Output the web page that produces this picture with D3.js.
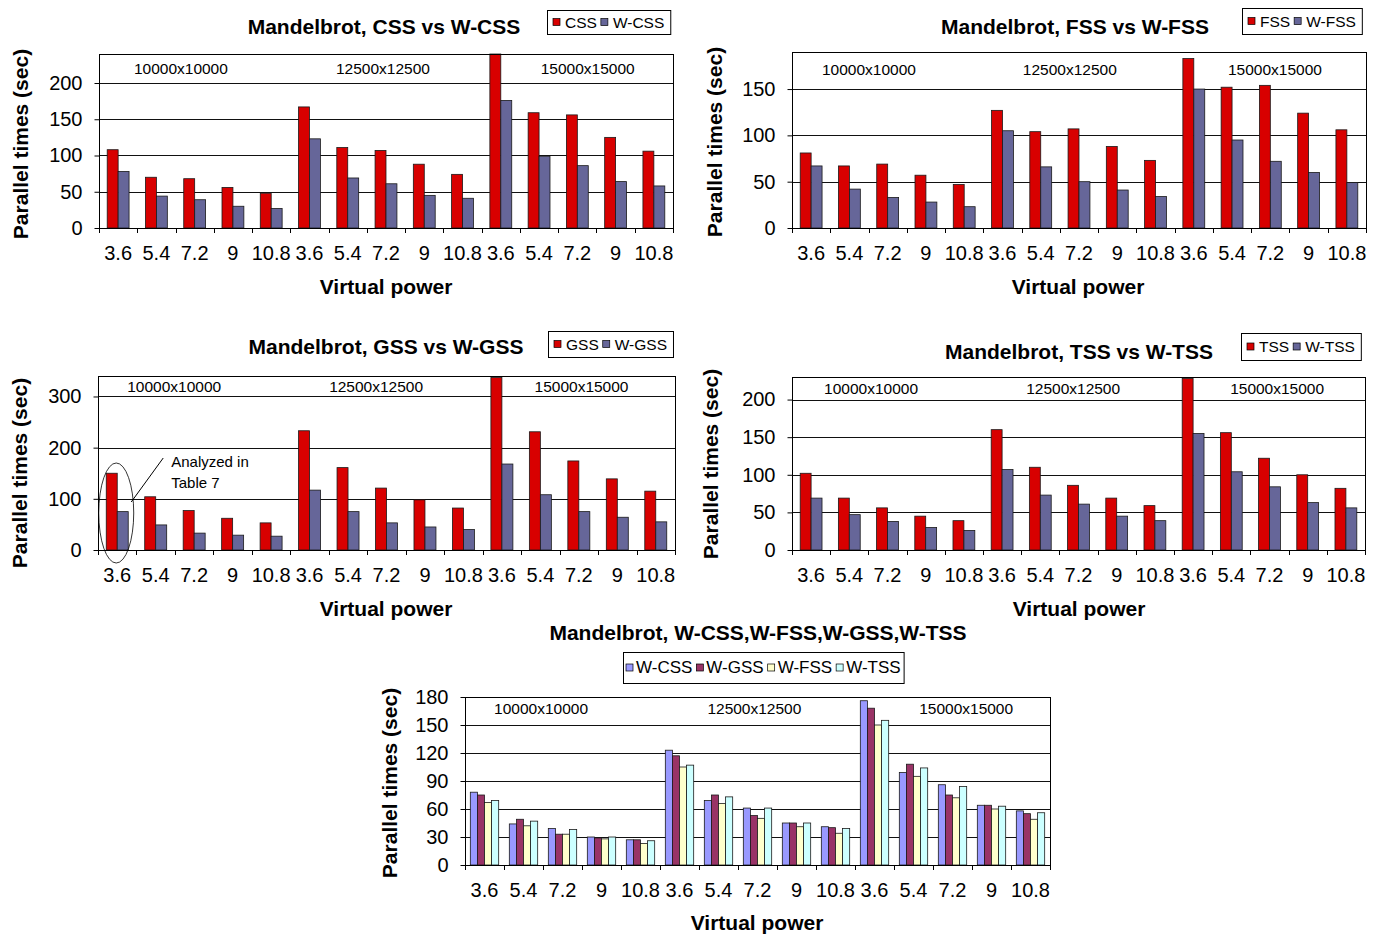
<!DOCTYPE html>
<html>
<head>
<meta charset="utf-8">
<script src="https://cdn.jsdelivr.net/npm/d3@7"></script>
<style>
  html, body { margin: 0; padding: 0; background: #fff; }
  svg { display: block; font-family: "Liberation Sans", Arial, sans-serif; }
</style>
</head>
<body>
<svg id="fig" width="1382" height="935"></svg>
<script>
// Virtual power levels, repeated for each Mandelbrot problem size
const virtualPower = ["3.6", "5.4", "7.2", "9", "10.8"];
const problemSizes = ["10000x10000", "12500x12500", "15000x15000"];

// Parallel times (sec), 15 values per scheme: size-major, virtual power minor
const css  = [108, 70, 68, 56, 48, 167, 111, 107, 88, 74, 240, 159, 156, 125, 106];
const wCss = [78, 44, 39, 30, 27, 123, 69, 61, 45, 41, 176, 99, 86, 64, 58];
const fss  = [81, 67, 69, 57, 47, 127, 104, 107, 88, 73, 183, 152, 154, 124, 106];
const wFss = [67, 42, 33, 28, 23, 105, 66, 50, 41, 34, 150, 95, 72, 60, 49];
const gss  = [150, 104, 77, 62, 53, 233, 161, 121, 98, 82, 337, 231, 174, 139, 115];
const wGss = [75, 49, 33, 29, 27, 117, 75, 53, 45, 40, 168, 108, 75, 64, 55];
const tss  = [102, 69, 56, 45, 39, 160, 110, 86, 69, 59, 228, 156, 122, 100, 82];
const wTss = [69, 47, 38, 30, 26, 107, 73, 61, 45, 39, 155, 104, 84, 63, 56];

// Y axis tick labels per chart
const ticksCss = [0, 50, 100, 150, 200];
const ticksFss = [0, 50, 100, 150];
const ticksGss = [0, 100, 200, 300];
const ticksTss = [0, 50, 100, 150, 200];
const ticksAll = [0, 30, 60, 90, 120, 150, 180];

const categories = problemSizes.flatMap(s => virtualPower.map(v => ({ size: s, vp: v })));

const RED = "#d80000", SLATE = "#666699";
const svg = d3.select("#fig");
svg.append("rect").attr("width", 1382).attr("height", 935).attr("fill", "#fff");

function drawChart(cfg) {
  const g = svg.append("g");
  const x = d3.scaleBand().domain(d3.range(categories.length)).range([cfg.left, cfg.right]);
  const xs = d3.scaleBand().domain(cfg.series.map(s => s.name))
    .range([0, x.bandwidth()]).paddingInner(0).paddingOuter(0.75);
  const y = d3.scaleLinear().domain([0, cfg.max]).range([cfg.bottom, cfg.top]);

  // horizontal gridlines
  g.selectAll("line.grid").data(cfg.ticks.filter(t => t > 0)).join("line")
    .attr("class", "grid")
    .attr("x1", cfg.left).attr("x2", cfg.right)
    .attr("y1", d => Math.round(y(d)) + 0.5).attr("y2", d => Math.round(y(d)) + 0.5)
    .attr("stroke", "#111").attr("stroke-width", 1);

  // bars
  cfg.series.forEach(s => {
    g.append("g").selectAll("rect").data(s.values).join("rect")
      .attr("x", (d, i) => x(i) + xs(s.name))
      .attr("y", d => y(d))
      .attr("width", xs.bandwidth())
      .attr("height", d => y(0) - y(d))
      .attr("fill", s.color)
      .attr("stroke", "#1a1a1a").attr("stroke-width", 0.8);
  });

  // plot frame
  g.append("rect")
    .attr("x", Math.round(cfg.left) + 0.5).attr("y", Math.round(cfg.top) + 0.5)
    .attr("width", Math.round(cfg.right - cfg.left)).attr("height", Math.round(cfg.bottom - cfg.top))
    .attr("fill", "none").attr("stroke", "#000").attr("stroke-width", 1);

  // y axis
  const ya = g.append("g").attr("transform", `translate(${Math.round(cfg.left) + 0.5},0)`)
    .call(d3.axisLeft(y).tickValues(cfg.ticks).tickSize(5).tickPadding(12).tickFormat(d3.format("d")));
  ya.select(".domain").remove();
  ya.attr("font-family", null).attr("font-size", null);
  ya.selectAll("text").attr("font-size", "20px").attr("fill", "#000");
  ya.selectAll("line").attr("stroke", "#000");

  // x axis: ticks between categories, labels centered
  g.selectAll("line.xt").data(d3.range(categories.length + 1)).join("line")
    .attr("class", "xt")
    .attr("x1", i => Math.round(cfg.left + i * x.step()) + 0.5)
    .attr("x2", i => Math.round(cfg.left + i * x.step()) + 0.5)
    .attr("y1", cfg.bottom).attr("y2", cfg.bottom + 5)
    .attr("stroke", "#000");
  g.selectAll("text.xl").data(categories).join("text")
    .attr("class", "xl")
    .attr("x", (d, i) => x(i) + x.bandwidth() / 2)
    .attr("y", cfg.bottom + 32)
    .attr("text-anchor", "middle").attr("font-size", "20px")
    .text(d => d.vp);

  // problem size labels inside the plot
  g.selectAll("text.size").data(problemSizes).join("text")
    .attr("class", "size")
    .attr("x", (d, i) => cfg.left + cfg.sizeAt[i] * x.step())
    .attr("y", cfg.top + cfg.sizeDy)
    .attr("text-anchor", "middle").attr("font-size", "15.5px")
    .text(d => d);

  // titles
  g.append("text").attr("x", cfg.titleX).attr("y", cfg.titleY)
    .attr("text-anchor", "middle").attr("font-weight", "bold").attr("font-size", "21px")
    .text(cfg.title);
  g.append("text").attr("x", cfg.xTitleX).attr("y", cfg.xTitleY)
    .attr("text-anchor", "middle").attr("font-weight", "bold").attr("font-size", "21px")
    .text("Virtual power");
  g.append("text")
    .attr("transform", `translate(${cfg.yTitleX},${cfg.yTitleY}) rotate(-90)`)
    .attr("text-anchor", "middle").attr("dominant-baseline", "central")
    .attr("font-weight", "bold").attr("font-size", "21px")
    .text("Parallel times (sec)");

  // legend
  const L = cfg.legend;
  const lg = g.append("g");
  const box = lg.append("rect").attr("fill", "#fff").attr("stroke", "#000").attr("stroke-width", 1);
  let cx = L.x + L.pad;
  const midY = L.y + L.h / 2;
  cfg.series.forEach(s => {
    lg.append("rect").attr("x", cx).attr("y", midY - 3.5).attr("width", 7).attr("height", 7)
      .attr("fill", s.color).attr("stroke", "#000").attr("stroke-width", 0.7);
    cx += 7 + L.gap;
    const t = lg.append("text").attr("x", cx).attr("y", midY).attr("dominant-baseline", "central")
      .attr("font-size", L.fontSize + "px").text(s.name);
    cx += t.node().getComputedTextLength() + L.space;
  });
  const w = cx - L.space + L.pad - L.x;
  box.attr("x", L.x + 0.5).attr("y", L.y + 0.5).attr("width", w).attr("height", L.h);
  return { x, y, g };
}

drawChart({
  title: "Mandelbrot, CSS vs W-CSS", titleX: 384, titleY: 34,
  left: 99, right: 673, top: 54, bottom: 228, max: 240, ticks: ticksCss,
  series: [{ name: "CSS", values: css, color: RED }, { name: "W-CSS", values: wCss, color: SLATE }],
  sizeAt: [2.14, 7.42, 12.77], sizeDy: 20,
  xTitleX: 386, xTitleY: 294, yTitleX: 20, yTitleY: 144,
  legend: { x: 547, y: 10, h: 24, pad: 6, gap: 5, space: 4, fontSize: 15.5 }
});

drawChart({
  title: "Mandelbrot, FSS vs W-FSS", titleX: 1075, titleY: 34,
  left: 792, right: 1366, top: 52, bottom: 228, max: 190, ticks: ticksFss,
  series: [{ name: "FSS", values: fss, color: RED }, { name: "W-FSS", values: wFss, color: SLATE }],
  sizeAt: [2.01, 7.26, 12.62], sizeDy: 23,
  xTitleX: 1078, xTitleY: 294, yTitleX: 714, yTitleY: 142,
  legend: { x: 1242, y: 8, h: 26, pad: 6, gap: 5, space: 4, fontSize: 15.5 }
});

const gssChart = drawChart({
  title: "Mandelbrot, GSS vs W-GSS", titleX: 386, titleY: 354,
  left: 98, right: 675, top: 376, bottom: 550, max: 340, ticks: ticksGss,
  series: [{ name: "GSS", values: gss, color: RED }, { name: "W-GSS", values: wGss, color: SLATE }],
  sizeAt: [1.98, 7.23, 12.57], sizeDy: 16,
  xTitleX: 386, xTitleY: 616, yTitleX: 19, yTitleY: 473,
  legend: { x: 548, y: 331, h: 26, pad: 6, gap: 5, space: 4, fontSize: 15.5 }
});

drawChart({
  title: "Mandelbrot, TSS vs W-TSS", titleX: 1079, titleY: 359,
  left: 792, right: 1365, top: 377, bottom: 550, max: 230, ticks: ticksTss,
  series: [{ name: "TSS", values: tss, color: RED }, { name: "W-TSS", values: wTss, color: SLATE }],
  sizeAt: [2.07, 7.36, 12.7], sizeDy: 17,
  xTitleX: 1079, xTitleY: 616, yTitleX: 710, yTitleY: 464,
  legend: { x: 1241, y: 333, h: 27, pad: 6, gap: 5, space: 4, fontSize: 15.5 }
});

drawChart({
  title: "Mandelbrot, W-CSS,W-FSS,W-GSS,W-TSS", titleX: 758, titleY: 640,
  left: 465, right: 1050, top: 697, bottom: 865, max: 180, ticks: ticksAll,
  series: [
    { name: "W-CSS", values: wCss, color: "#9999ff" },
    { name: "W-GSS", values: wGss, color: "#993366" },
    { name: "W-FSS", values: wFss, color: "#ffffcc" },
    { name: "W-TSS", values: wTss, color: "#ccffff" }
  ],
  sizeAt: [1.95, 7.42, 12.85], sizeDy: 17,
  xTitleX: 757, xTitleY: 930, yTitleX: 389, yTitleY: 783,
  legend: { x: 623, y: 652, h: 31, pad: 3, gap: 3, space: 4, fontSize: 17 }
});

// callout around the first GSS category
{
  const { x, y, g } = gssChart;
  const cx = x(0) + x.bandwidth() / 2 - 1;
  g.append("ellipse").attr("cx", cx).attr("cy", y(0) - 37).attr("rx", 17.5).attr("ry", 50)
    .attr("fill", "none").attr("stroke", "#000").attr("stroke-width", 0.8);
  g.append("line").attr("x1", cx + 15).attr("y1", y(0) - 48).attr("x2", cx + 47).attr("y2", y(0) - 92)
    .attr("stroke", "#000").attr("stroke-width", 1);
  g.append("text").attr("x", cx + 55).attr("y", y(0) - 83).attr("font-size", "15px").text("Analyzed in");
  g.append("text").attr("x", cx + 55).attr("y", y(0) - 62).attr("font-size", "15px").text("Table 7");
}
</script>
</body>
</html>
